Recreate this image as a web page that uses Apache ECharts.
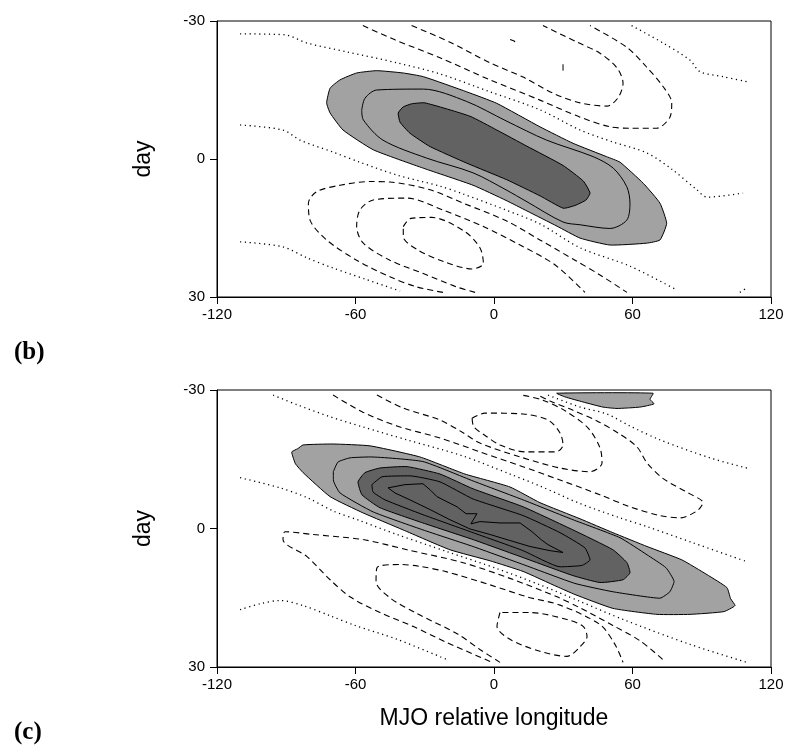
<!DOCTYPE html>
<html>
<head>
<meta charset="utf-8">
<script src="https://cdn.jsdelivr.net/npm/echarts@6/dist/echarts.min.js"></script>
<style>
  html, body { margin: 0; padding: 0; background: #fff; }
  #chart { width: 787px; height: 747px; }
</style>
</head>
<body>
<div id="chart"></div>
<script>
// axis ticks
var lonTicks = [-120, -60, 0, 60, 120];
var dayTicks = [-30, 0, 30];

// ---- panel (b): contours as [lon, day] ----
var bShade1 = [[-72.5,-12.2],[-71,-15.4],[-66.7,-17.2],[-59.5,-18.7],[-50.8,-19.2],[-39.4,-18.7],[-30.6,-17.9],[-11.8,-14.6],[1.2,-12.1],[19.9,-7],[34.3,-3.4],[48.8,-0.5],[54.6,0.7],[64.7,5.3],[71.9,9.6],[74.8,14],[71.9,17.6],[66.1,18.3],[50.2,18.7],[37.3,17.2],[27.3,14.6],[14.3,11.3],[5.2,9],[-9.1,5.7],[-30.6,2],[-52.3,-2],[-65.4,-6.3],[-71,-10]];
var bLine2 = [[-57.3,-10.6],[-55.9,-13.2],[-50.8,-15],[-30.6,-15.2],[-11.8,-12.5],[5.2,-8.3],[22.8,-4.1],[43,-0.5],[51.7,2],[57.5,6],[58.9,9.6],[57.5,13.3],[50.2,15.1],[37.3,14.3],[29.9,13.7],[14.3,9.3],[5.2,6.7],[-9.1,3],[-29.2,-0.2],[-48.1,-4.1],[-56.6,-8.5],[-57.3,-10.6]];
var bShade3 = [[-41.5,-10],[-39.4,-11.3],[-35.7,-12],[-29.9,-12.2],[-10.4,-9.3],[1.2,-6.3],[14.2,-2.8],[29.9,1.4],[38.7,4.8],[41.6,7.4],[39.9,8.9],[35.1,10.1],[30,10.7],[19.9,8],[5.5,4.5],[-11.8,0.9],[-27.7,-2.7],[-36.4,-5.6],[-40.7,-8]];
var bZeroTop = [[-110,-27.2],[-90.5,-27],[-81,-25.2],[-63.7,-23.3],[-42,-20.9],[-23.4,-18.5],[-1.7,-14.6],[19.9,-10.7],[37.3,-6.3],[51.5,-3.7],[66.3,-1.3],[77.5,2.4],[87.9,6.7],[92.3,8.3],[107.9,7.4]];
var bZeroRight = [[59.6,-29],[73.3,-25.2],[84.9,-21.5],[89.2,-19],[99.3,-17.9],[109.5,-16.8]];
var bZeroMid = [[-110,-7.4],[-91.4,-6.3],[-84,-4.1],[-69.7,-1.5],[-58.1,0.7],[-42,3.5],[-23.4,5.9],[-13.4,7.6],[5.2,11.1],[19.9,14.1],[37.3,19.3],[58.9,23.3],[79.3,28.5]];
var bZeroBot = [[-110,18],[-91.4,19.1],[-81,21.5],[-69.7,23.7],[-55.9,26.1],[-40.7,28.7]];
var bZeroCorner = [[106.5,29],[109,28.2]];
var bNeg1Top = [[-56.8,-29],[-42.9,-25.9],[-23.4,-22],[-1.7,-17.2],[19.9,-12.8],[37.3,-9.1],[50.2,-7],[58.9,-6.7],[70.5,-6.7],[76.2,-9.1],[77,-12.2],[73.3,-15.7],[66.1,-20],[57.5,-24.3],[41.6,-29]];
var bNeg2Top = [[-35.7,-29],[-19.1,-25.4],[-1.7,-20.9],[12.6,-17.8],[25.6,-14.3],[37.3,-12.2],[48.9,-11.5],[53.7,-13.3],[55.9,-16.5],[53.3,-19.8],[45.9,-23],[36,-25.4],[21.2,-29]];
var bNeg3TopA = [[7,-26],[9,-25.6],[8.5,-24.6]];
var bNeg3TopB = [[29.9,-20.6],[29.9,-19.2]];
var bNeg1Bot = [[-22.1,29],[-33.5,27.8],[-45.1,25.6],[-59.5,22],[-72.5,17.6],[-79.7,13.3],[-80.4,9.6],[-76.8,7.1],[-66.7,5.7],[-53.7,4.9],[-45.1,5],[-27.7,6.7],[-13.3,9.6],[5.5,13.5],[19.9,17.6],[35.1,22],[45.9,25.2],[57.6,29]];
var bNeg2Bot = [[-8.2,29],[-16.2,27.8],[-30.6,24.9],[-45.1,22],[-56.6,18.3],[-59.5,14.7],[-58.1,11.1],[-52.3,8.9],[-37.8,8.5],[-22,11.1],[-4.6,14.7],[11.3,18.7],[26.4,23],[39.4,29]];
var bNeg3Bot = [[-39.3,14.7],[-36,12.9],[-26.9,12.7],[-12.6,15.8],[-6.1,19.3],[-4.6,22.7],[-9.5,23.9],[-21.2,22.4],[-32.9,19.8],[-39.3,16.9],[-39.3,14.7]];

// ---- panel (c) ----
var cShade1 = [[-87.6,-16.6],[-85,-17.3],[-82.7,-18.1],[-69.7,-18.3],[-53.7,-17.9],[-32.1,-15.5],[-12.6,-11.8],[6.9,-9],[19.9,-5.6],[37.3,-2.1],[51.5,0.9],[66.3,3.9],[81.4,6.8],[92.3,10],[100.9,12.8],[102.5,15.2],[104.4,16.7],[99.6,18],[84.9,18.6],[70.6,18.6],[51.5,17.3],[35.1,14.3],[27.3,12.6],[12.6,9.3],[-1.7,7],[-19.1,4.6],[-39.4,0.3],[-56.8,-3.4],[-71,-6.9],[-82.7,-12.1],[-86,-14],[-87.1,-15.5]];
var cShadeTop = [[27.2,-29.3],[68.9,-29.3],[67.6,-28],[69.3,-27],[63.2,-26.3],[53.3,-26],[47.2,-26.3],[38.6,-27.4],[30.8,-28.5]];
var cLine2 = [[-69.6,-12.3],[-67.6,-14.4],[-62.4,-15.3],[-53.7,-15.5],[-30.8,-14.5],[-9.1,-10.3],[12.6,-6.2],[34.2,-1.9],[54.6,2],[66.3,5.7],[74.5,8.5],[78,11.5],[76.2,13.7],[71.9,15.1],[51.5,13.7],[35.1,11.9],[12.6,7.8],[-9.1,3.9],[-30.8,0.3],[-52.4,-3.6],[-66.7,-7.7],[-69.6,-10.5],[-69.6,-12.3]];
var cShade3 = [[-58.9,-10.1],[-55.9,-12.1],[-49.4,-13.1],[-37.7,-13.4],[-23.4,-11.8],[-9.1,-8.6],[12.6,-4.7],[34.2,0.3],[51.5,4.6],[57.6,7.4],[58.9,9.6],[55.9,11.1],[45.9,11.7],[34.2,10.2],[12.6,6.3],[-9.1,2.4],[-30.8,-1.2],[-49.4,-4.5],[-57.2,-7.3]];
var cLine4 = [[-52.9,-9.5],[-48.5,-11.2],[-36.4,-11.4],[-23.4,-10.1],[-9.1,-6.4],[12.6,-2.8],[28.6,0.9],[39.4,4.2],[41.6,6.8],[38.1,8],[28.6,8.3],[12.6,4.8],[-9.1,0.9],[-30.8,-3],[-47.2,-6.2],[-52.4,-7.9],[-52.9,-9.5]];
var cLine5 = [[-45.9,-8.8],[-38.6,-9.5],[-30.8,-9.7],[-27.7,-8.4],[-24.7,-6.9],[-20.4,-5.8],[-16,-4.7],[-12.1,-3.2],[-7.4,-3.2],[-10,-1],[-6.1,-1.5],[2.6,-1.2],[11.3,-1.2],[16.5,0.7],[20.4,2.4],[23.4,3.5],[29.9,5.2],[24.3,4.8],[15.6,3.9],[6.9,2.6],[-1.7,1.3],[-10.4,0.1],[-19.1,-1.9],[-27.7,-4.1],[-36.4,-6.2],[-42.9,-7.7],[-45.9,-8.8]];
var cZeroTop = [[-95.7,-28.9],[-85.3,-26.8],[-71,-24.2],[-56.8,-22],[-37.7,-19.2],[-13.4,-15.7],[6.9,-11.8],[19.9,-9.2],[37.3,-5.4],[54.6,-2.3],[66.3,-0.4],[86.2,3.1],[109.6,7.2]];
var cZeroRight = [[23.4,-28.9],[37.3,-26.3],[48.9,-24.8],[58.9,-22.2],[71.9,-19.2],[93.6,-15.3],[109.6,-13.1]];
var cZeroMid = [[-110,-11],[-92.7,-8.8],[-81,-6.7],[-69.7,-3.8],[-58.1,-1.7],[-42,1.3],[-20.4,5],[1.3,8.7],[19.9,12.2],[37.3,15.8],[55.9,19.7],[84.9,25.1],[109.6,29]];
var cZeroBot = [[-110,17.6],[-101.4,16.3],[-92.7,15.6],[-82.7,16.7],[-71,18.9],[-60.2,21],[-42,24],[-20.4,28.4]];
var cNeg1Top = [[-69.7,-28.9],[-56.8,-25.2],[-42,-22.2],[-23.4,-19.6],[-6.1,-16.6],[11.3,-13.6],[28.6,-10.5],[45.9,-7.3],[58.9,-4.7],[71.9,-2.8],[80.6,-2.3],[87.9,-3.8],[90.5,-5.6],[84.9,-7.5],[73.3,-10.8],[66.3,-14.2],[61.9,-17.7],[53.7,-20.7],[44.6,-23.3],[33.8,-25.7],[24.3,-27.6],[19.1,-28.9]];
var cNeg2Top = [[-50.7,-28.9],[-39.4,-26.1],[-23.4,-23.5],[-13.9,-20.9],[-6.1,-18.5],[11.3,-15.5],[28.6,-13.1],[41.6,-12.3],[46.8,-14.2],[45.9,-17.5],[40.7,-21.8],[30.8,-25.5],[21.2,-27.8],[12.1,-28.9]];
var cNeg3Top = [[-9.5,-23.9],[-3.9,-25],[12.6,-24.8],[23.4,-23.5],[28.6,-20.7],[29.9,-18.1],[26.9,-16.6],[13.4,-16.6],[2.6,-18.1],[-4.3,-20.3],[-8.7,-22],[-9.5,-23.9]];
var cNeg1Bot = [[-1.7,28.8],[-20.4,24.7],[-35.1,21.2],[-49.4,18.2],[-62.4,14.8],[-71,11.1],[-81,6.1],[-91.4,2.4],[-90.5,0.7],[-78.4,1.3],[-56.8,2.4],[-37.7,4.6],[-13.4,7.4],[6.9,10.8],[27.3,14.8],[37.3,17.2],[51.5,21],[63.2,24.3],[74.1,28.8]];
var cNeg2Bot = [[2.6,29],[-6.1,26.2],[-16,22.8],[-33.4,18.4],[-45.1,15],[-51.1,11.5],[-50.7,8.5],[-40.7,7.8],[-32.1,8.2],[-20.4,9.4],[-1.7,12.2],[14.3,14.8],[28.6,16.6],[45.9,20.8],[52.4,25.1],[55.9,29]];
var cNeg3Bot = [[2.6,18.2],[1.3,21.2],[6.9,24],[19.9,26.6],[31.6,27.7],[37.3,25.6],[40.3,23.4],[38.6,21.2],[31.6,19.7],[15.6,18.2],[2.6,18.2]];

var LIGHT = '#a2a2a2', DARK = '#626262';

function shade(grid, pts, color) {
  return {
    type: 'custom', xAxisIndex: grid, yAxisIndex: grid, data: pts, silent: true, z: 2,
    renderItem: function (params, api) {
      if (params.dataIndex !== 0) return null;
      return {
        type: 'polygon',
        shape: { points: pts.map(function (p) { return api.coord(p); }), smooth: 0.15 },
        style: { fill: color, stroke: '#000', lineWidth: 1 }
      };
    }
  };
}

function contour(grid, pts, kind, smooth) {
  var style = { color: '#000', width: 1, type: 'solid' };
  if (kind === 'dashed') { style.type = [6, 4]; style.width = 1.1; }
  if (kind === 'dotted') { style.type = [1.2, 3.6]; style.width = 1.3; }
  return {
    type: 'line', xAxisIndex: grid, yAxisIndex: grid, data: pts,
    showSymbol: false, symbol: 'none', silent: true, z: 3,
    smooth: smooth === undefined ? 0.3 : smooth,
    lineStyle: style
  };
}

var chart = echarts.init(document.getElementById('chart'));

var axisFont = 'Liberation Sans';
function xAx(i, name) {
  return {
    gridIndex: i, type: 'value', min: lonTicks[0], max: lonTicks[lonTicks.length - 1], interval: 60,
    name: name, nameLocation: 'middle', nameGap: 40,
    nameTextStyle: { fontSize: 23, color: '#000', fontFamily: axisFont },
    axisLine: { onZero: false, lineStyle: { color: '#000', width: 1 } },
    axisTick: { inside: false, length: 7, lineStyle: { color: '#000' } },
    axisLabel: { color: '#000', fontSize: 15, fontFamily: axisFont, margin: 10 },
    splitLine: { show: false }
  };
}
function yAx(i) {
  return {
    gridIndex: i, type: 'value', inverse: true, min: dayTicks[0], max: dayTicks[dayTicks.length - 1], interval: 30,
    name: 'day', nameLocation: 'middle', nameGap: 62, nameRotate: 90,
    nameTextStyle: { fontSize: 23, color: '#000', fontFamily: axisFont },
    axisLine: { onZero: false, lineStyle: { color: '#000', width: 1 } },
    axisTick: { inside: false, length: 7, lineStyle: { color: '#000' } },
    axisLabel: { color: '#000', fontSize: 15, fontFamily: axisFont, margin: 12 },
    splitLine: { show: false }
  };
}

chart.setOption({
  animation: false,
  backgroundColor: '#fff',
  grid: [
    { left: 217, top: 21, width: 554, height: 276, show: true, borderColor: '#000', borderWidth: 1, backgroundColor: 'transparent' },
    { left: 217, top: 390, width: 554, height: 277, show: true, borderColor: '#000', borderWidth: 1, backgroundColor: 'transparent' }
  ],
  xAxis: [xAx(0, ''), xAx(1, 'MJO relative longitude')],
  yAxis: [yAx(0), yAx(1)],
  graphic: [
    { type: 'text', left: 14, top: 340, style: { text: '(b)', font: 'bold 25px "Liberation Serif"', fill: '#000' } },
    { type: 'text', left: 14, top: 720, style: { text: '(c)', font: 'bold 25px "Liberation Serif"', fill: '#000' } }
  ],
  series: [
    shade(0, bShade1, LIGHT),
    contour(0, bLine2, 'solid'),
    shade(0, bShade3, DARK),
    contour(0, bZeroTop, 'dotted'),
    contour(0, bZeroRight, 'dotted'),
    contour(0, bZeroMid, 'dotted'),
    contour(0, bZeroBot, 'dotted'),
    contour(0, bZeroCorner, 'dotted'),
    contour(0, bNeg1Top, 'dashed'),
    contour(0, bNeg2Top, 'dashed'),
    contour(0, bNeg3TopA, 'dashed', 0),
    contour(0, bNeg3TopB, 'solid', 0),
    contour(0, bNeg1Bot, 'dashed'),
    contour(0, bNeg2Bot, 'dashed'),
    contour(0, bNeg3Bot, 'dashed'),

    shade(1, cShade1, LIGHT),
    shade(1, cShadeTop, LIGHT),
    contour(1, cLine2, 'solid', 0.15),
    shade(1, cShade3, DARK),
    contour(1, cLine4, 'solid', 0.15),
    contour(1, cLine5, 'solid', 0),
    contour(1, cZeroTop, 'dotted'),
    contour(1, cZeroRight, 'dotted'),
    contour(1, cZeroMid, 'dotted'),
    contour(1, cZeroBot, 'dotted'),
    contour(1, cNeg1Top, 'dashed'),
    contour(1, cNeg2Top, 'dashed'),
    contour(1, cNeg3Top, 'dashed'),
    contour(1, cNeg1Bot, 'dashed'),
    contour(1, cNeg2Bot, 'dashed'),
    contour(1, cNeg3Bot, 'dashed')
  ]
});
</script>
</body>
</html>
